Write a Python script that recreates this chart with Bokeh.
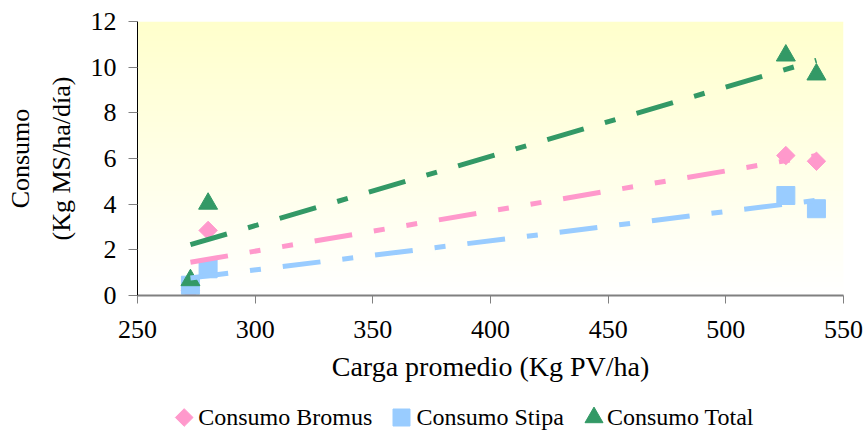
import numpy as np
from bokeh.plotting import figure
from bokeh.layouts import column
from bokeh.models import Range1d, SingleIntervalTicker
from bokeh.core.properties import value
from bokeh.embed import file_html
from bokeh.resources import INLINE

# ---- data ----
carga = [272.5, 280.0, 525.5, 538.5]          # Carga promedio (Kg PV/ha)
bromus = [0.22, 2.85, 6.13, 5.88]             # Consumo Bromus
stipa = [0.45, 1.17, 4.38, 3.80]              # Consumo Stipa
total = [0.67, 4.02, 10.51, 9.68]             # Consumo Total
series_names = ["Consumo Bromus", "Consumo Stipa", "Consumo Total"]

x_lo, x_hi, x_step = 250, 550, 50
y_lo, y_hi, y_step = 0, 12, 2

PINK = "#FF99CC"
BLUE = "#99CCFF"
GREEN = "#339966"
FONT = "Liberation Serif"

W, H = 864, 430
LEG_H = 35
B_LEFT, B_RIGHT, B_TOP = 137, 21, 21

p = figure(width=W, height=H - LEG_H, output_backend="svg", toolbar_location=None,
           x_range=Range1d(x_lo, x_hi), y_range=Range1d(y_lo, y_hi),
           min_border_left=B_LEFT, min_border_right=B_RIGHT, min_border_top=B_TOP,
           min_border_bottom=100)
p.outline_line_color = None
p.grid.visible = False
p.background_fill_color = "white"
p.border_fill_color = "white"

# gradient plot-area background (light yellow at top -> white at bottom)
n = 256
t = np.linspace(0.0, 1.0, n)
img = np.empty((n, 2), dtype=np.uint32)
view = img.view(dtype=np.uint8).reshape((n, 2, 4))
view[:, :, 0] = 255
view[:, :, 1] = 255
view[:, :, 2] = np.round(255 - 51 * t)[:, None].astype(np.uint8)
view[:, :, 3] = 255
p.image_rgba(image=[img], x=x_lo, y=y_lo, dw=x_hi - x_lo, dh=y_hi - y_lo)

styles = [dict(marker="square", angle=np.pi / 4, size=13, fill_color=PINK, line_color=PINK),
          dict(marker="square", size=18, fill_color=BLUE, line_color=BLUE),
          dict(marker="triangle", size=19, fill_color=GREEN, line_color=GREEN)]

# markers
for ys, st in zip([bromus, stipa, total], styles):
    p.scatter(carga, ys, **st)

# linear trend lines (drawn above the markers)
def trend(xs, ys):
    m, b = np.polyfit(xs, ys, 1)
    xe = np.array([min(xs), max(xs)])
    return xe, m * xe + b

for ys, col, dash in [(bromus, PINK, "38 22 11 22 11 22"),
                      (stipa, BLUE, "38 22 11 22"),
                      (total, GREEN, "38 22 11 22")]:
    xe, ye = trend(carga, ys)
    p.line(xe, ye, line_color=col, line_width=5, line_dash=dash, line_cap="butt")

# axes
p.xaxis.ticker = SingleIntervalTicker(interval=x_step, num_minor_ticks=0)
p.yaxis.ticker = SingleIntervalTicker(interval=y_step, num_minor_ticks=0)
for ax in (p.xaxis[0], p.yaxis[0]):
    ax.major_label_text_font = FONT
    ax.major_label_text_font_size = "26px"
    ax.major_label_text_color = "black"
    ax.axis_label_text_font = FONT
    ax.axis_label_text_font_style = "normal"
    ax.axis_label_text_color = "black"
    ax.major_tick_in = 0
    ax.minor_tick_line_color = None
    ax.major_tick_line_color = "#808080"
    ax.major_tick_line_width = 1

p.xaxis.axis_label = "Carga promedio (Kg PV/ha)"
p.xaxis.axis_label_text_font_size = "28px"
p.xaxis.axis_line_color = "#808080"
p.xaxis.axis_line_width = 2
p.xaxis.major_tick_out = 8
p.xaxis.major_label_standoff = 17
p.xaxis.axis_label_standoff = 10

p.yaxis.axis_label = "Consumo\n(Kg MS/ha/día)"
p.yaxis.axis_label_text_font_size = "26px"
p.yaxis.axis_line_color = "black"
p.yaxis.axis_line_width = 1
p.yaxis.major_tick_out = 9
p.yaxis.major_label_standoff = 12
p.yaxis.axis_label_standoff = 12
p.yaxis.axis_label_text_line_height = 1.4

# legend strip below the chart (screen-pixel coordinates: x from page left, y from strip top)
q = figure(width=W, height=LEG_H, output_backend="svg", toolbar_location=None,
           x_range=Range1d(B_LEFT, W - B_RIGHT), y_range=Range1d(LEG_H, 0),
           x_axis_type=None, y_axis_type=None,
           min_border=0, min_border_left=B_LEFT, min_border_right=B_RIGHT,
           min_border_top=0, min_border_bottom=0)
q.outline_line_color = None
q.grid.visible = False
q.background_fill_color = "white"
q.border_fill_color = "white"

key_x = [183.7, 401.0, 593.5]      # legend key centres
label_x = [197.7, 416.0, 606.4]    # legend label starts
key_y, label_y = 22, 21.5
key_sizes = [12.5, 17, 18]
for kx, lx, name, st, ks in zip(key_x, label_x, series_names, styles, key_sizes):
    st2 = dict(st)
    st2["size"] = ks
    q.scatter([kx], [key_y], **st2)
    q.text([lx], [label_y], text=[name], text_font=value(FONT),
           text_font_size="24px", text_color="black",
           text_align="left", text_baseline="middle")

layout = column(p, q, spacing=0)
open("out.html", "w").write(file_html(layout, INLINE))
